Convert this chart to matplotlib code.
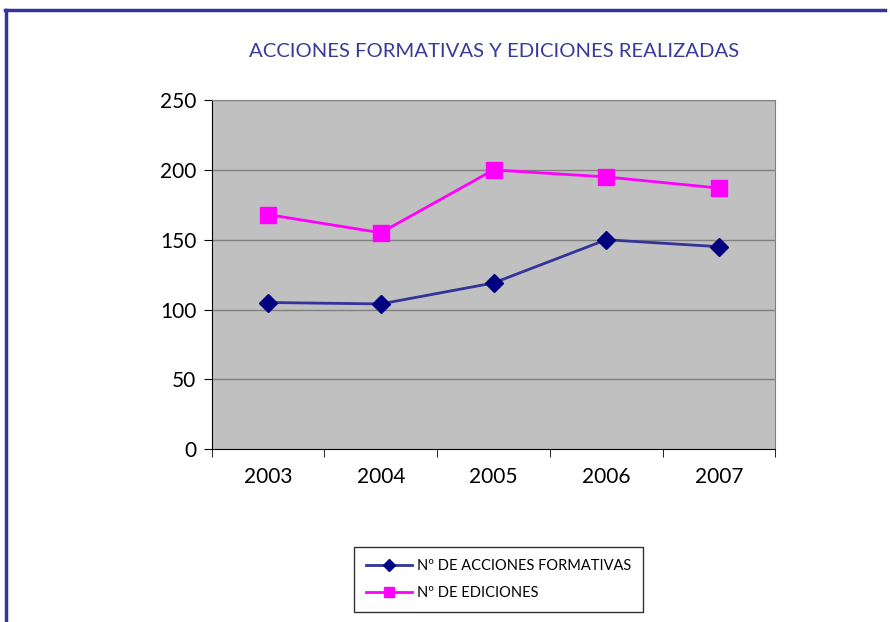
import numpy as np
import matplotlib.pyplot as plt
from matplotlib.lines import Line2D

years = ["2003", "2004", "2005", "2006", "2007"]
acciones = [105, 104, 119, 150, 145]
ediciones = [168, 155, 200, 195, 187]
y_ticks = [0, 50, 100, 150, 200, 250]

plt.rcParams['font.family'] = ['Lato', 'DejaVu Sans']

fig = plt.figure(figsize=(8.9, 6.22), dpi=100)
ax = fig.add_axes([0.238, 0.278, 0.633, 0.561])
ax.set_facecolor("#c0c0c0")

x = np.arange(len(years))
ax.plot(x, acciones, color="#333399", lw=2, marker="D", ms=9,
        mfc="#000080", mec="#000080", zorder=3)
ax.plot(x, ediciones, color="#ff00ff", lw=2, marker="s", ms=11,
        mfc="#ff00ff", mec="#ff00ff", zorder=3)

ax.set_xlim(-0.5, len(years) - 0.5)
ax.set_ylim(0, 250)
ax.set_yticks(y_ticks)
ax.set_yticklabels([str(v) for v in y_ticks], fontsize=15)
for v in y_ticks[1:]:
    ax.axhline(v, color="#808080", lw=1, zorder=1)

ax.set_xticks(x)
ax.set_xticklabels(years, fontsize=15)
ax.tick_params(axis="x", length=0, pad=13)
ax.set_xticks(np.arange(-0.5, len(years)), minor=True)
ax.tick_params(axis="x", which="minor", length=6, direction="out", color="black")
ax.tick_params(axis="y", length=6, direction="out", pad=5)

ax.spines["left"].set_color("black")
ax.spines["bottom"].set_color("black")
ax.spines["top"].set_color("#808080")
ax.spines["right"].set_color("#808080")

fig.text(0.555, 0.917, "ACCIONES FORMATIVAS Y EDICIONES REALIZADAS",
         ha="center", va="center", fontsize=14.6, color="#3a3a99")

# outer frame lines
fig.add_artist(Line2D([0.006, 0.994], [0.984, 0.984], color="#333399", lw=2.5,
                      transform=fig.transFigure))
fig.add_artist(Line2D([0.007, 0.007], [0.0, 0.984], color="#333399", lw=2.5,
                      transform=fig.transFigure))

h1 = Line2D([], [], color="#333399", lw=2, marker="D", ms=6,
            mfc="#000080", mec="#000080")
h2 = Line2D([], [], color="#ff00ff", lw=2, marker="s", ms=7,
            mfc="#ff00ff", mec="#ff00ff")
leg = fig.legend([h1, h2], ["Nº DE ACCIONES FORMATIVAS", "Nº DE EDICIONES"],
                 loc="center", bbox_to_anchor=(0.560, 0.068), fontsize=10.5,
                 frameon=True, fancybox=False, edgecolor="black",
                 handlelength=3.2, borderpad=0.8, labelspacing=0.9,
                 borderaxespad=0, handletextpad=0.3)
leg.get_frame().set_linewidth(1)

fig.savefig("out.png", dpi=100)
